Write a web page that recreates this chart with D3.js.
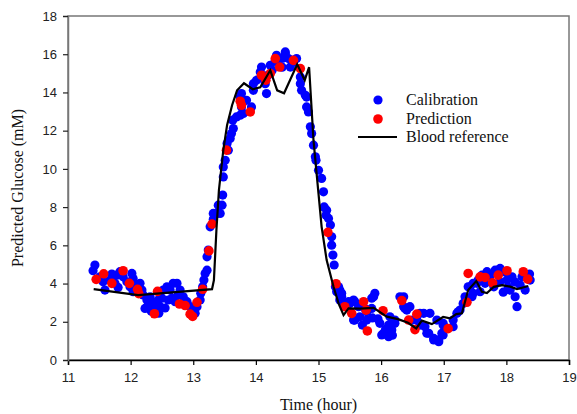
<!doctype html>
<html>
<head>
<meta charset="UTF-8">
<title>Predicted Glucose</title>
<script src="https://d3js.org/d3.v7.min.js"></script>
<style>
  body { margin: 0; background: #fff; }
  .tick text { font-family: "Liberation Sans", Arial, sans-serif; font-size: 13px; fill: #222; }
  .title { font-family: "Liberation Serif", "Times New Roman", serif; font-size: 16px; fill: #111; }
  .legend text { font-family: "Liberation Serif", "Times New Roman", serif; font-size: 16px; fill: #111; }
</style>
</head>
<body>
<div id="chart"></div>
<script>
// blood reference glucose [hour, mM]
var bloodRef = [
  [11.41,3.71],[12.12,3.40],[13.30,3.71],[13.33,4.18],[13.37,6.80],[13.41,8.89],[13.48,10.98],
  [13.54,12.28],[13.62,13.33],[13.70,14.11],[13.81,14.48],[13.95,14.17],[14.07,14.27],[14.23,15.16],
  [14.34,14.11],[14.45,13.96],[14.66,15.47],[14.78,14.64],[14.85,15.32],[14.92,11.50],[15.00,8.71],
  [15.05,6.97],[15.13,5.23],[15.24,3.83],[15.32,2.96],[15.40,2.35],[15.48,2.70],[15.66,2.69],
  [15.88,2.73],[16.09,2.27],[16.27,2.14],[16.43,1.95],[16.56,1.65],[16.65,2.06],[16.81,1.88],
  [16.99,2.25],[17.10,2.18],[17.20,2.40],[17.29,2.44],[17.39,3.66],[17.52,4.13],[17.61,3.57],
  [17.69,3.50],[17.80,3.83],[17.93,3.92],[18.06,3.84],[18.17,3.71],[18.35,3.87]
];

// calibration set predictions [hour, mM]
var calibration = [
  [11.43,4.97],[11.40,4.67],[11.51,4.35],[11.56,4.09],[11.59,3.66],[11.67,4.18],[11.75,4.01],
  [11.78,4.44],[11.83,4.62],[11.88,4.35],[11.94,4.09],[12.02,4.53],[12.04,4.27],[11.99,3.83],
  [12.10,3.92],[12.15,4.01],[12.18,3.66],[12.04,3.57],[12.20,3.40],[12.26,3.14],[12.23,2.70],
  [12.28,2.79],[12.34,3.05],[12.39,2.96],[12.42,2.61],[12.47,2.79],[12.50,3.23],[12.31,3.31],
  [12.52,3.66],[12.58,3.83],[12.63,3.66],[12.66,3.23],[12.71,3.05],[12.68,4.01],[12.74,4.01],
  [12.79,3.66],[12.84,3.31],[12.90,3.05],[12.95,2.79],[12.98,2.52],[13.03,2.44],[13.06,2.79],
  [13.11,3.14],[13.12,3.49],[13.15,3.83],[13.17,4.18],[13.19,4.53],[13.22,4.70],[13.22,5.40],
  [13.24,5.75],[11.70,4.50],[11.80,3.80],[12.44,3.14],[12.55,2.72],[12.60,3.14],[12.76,3.40],
  [12.36,2.75],[12.45,2.45],[12.33,2.55],
  [13.27,6.97],[13.32,7.67],[13.38,7.67],[13.43,7.67],[13.46,8.10],[13.47,8.63],[13.48,9.58],
  [13.48,10.10],[13.51,10.45],[13.54,11.33],[13.59,11.59],[13.61,11.85],[13.64,12.11],[13.63,12.55],
  [13.69,12.72],[13.75,12.81],[13.80,12.90],[13.77,13.24],[13.93,13.24],[13.85,13.59],[13.75,13.76],
  [13.77,13.94],[13.32,7.37],[13.40,8.10],[13.56,10.98],
  [13.96,14.46],[14.01,14.64],[14.07,15.07],[14.17,13.94],[14.15,14.46],[14.23,15.42],[14.31,15.68],
  [14.47,16.03],[14.52,15.77],[14.55,15.33],[14.65,15.77],[14.71,14.81],[14.71,14.46],[14.73,14.11],
  [14.79,13.85],[14.81,13.24],[14.84,12.98],[14.10,14.74],[14.19,14.90],[14.26,15.16],[14.35,15.58],
  [14.42,15.32],[14.59,15.58],[14.43,15.79],[13.96,14.11],[14.09,15.33],[14.33,15.94],[14.47,16.12],
  [14.81,13.76],
  [14.87,12.20],[14.89,11.85],[14.92,11.24],[14.95,10.63],[14.96,10.45],[15.00,9.93],[15.05,9.50],
  [15.08,8.80],[15.09,8.01],[15.13,7.84],[15.12,7.58],[15.16,7.41],[15.19,7.06],[15.21,6.45],
  [15.21,6.01],[15.23,5.49],[15.25,4.97],[15.27,3.83],[15.32,3.83],[15.29,3.57],[15.34,3.66],
  [15.37,3.49],[15.37,3.31],[15.34,3.14],[15.40,2.96],
  [15.48,3.05],[15.50,2.96],[15.56,3.14],[15.58,3.05],[15.56,2.09],[15.58,2.09],[15.66,2.26],
  [15.64,2.79],[15.74,2.70],[15.77,2.52],[15.77,2.09],[15.85,2.70],[15.85,3.23],[15.90,3.49],
  [15.88,3.31],[15.98,1.92],[16.04,1.40],[16.01,1.31],[16.12,1.22],[16.17,1.57],[16.12,1.83],
  [16.14,2.26],[16.22,2.09],[16.22,1.92],[16.30,3.31],[16.36,2.79],[16.38,2.70],[16.41,2.61],
  [16.46,2.79],[16.57,2.09],[16.68,2.44],[16.70,1.74],[16.73,1.40],[16.76,1.40],[16.84,1.13],
  [16.84,1.05],[16.92,0.96],[16.92,1.05],[16.97,1.40],[16.99,1.31],[16.99,1.83],[16.99,1.92],
  [16.36,3.31],[16.62,2.44],[16.78,2.44],[16.89,2.09],[17.15,1.74],[17.21,2.44],[17.26,2.61],
  [15.70,1.83],[15.86,2.20],[16.50,2.09],[16.62,1.83],[16.07,1.60],[16.18,1.30],[15.95,2.15],
  [17.15,2.09],[17.23,2.52],[17.31,2.96],[17.34,3.31],[17.37,3.23],[17.42,3.83],[17.45,3.31],
  [17.47,3.49],[17.39,3.83],[17.47,4.01],[17.53,4.01],[17.69,4.62],[17.90,4.79],[18.01,4.18],
  [18.09,4.35],[18.06,3.66],[18.14,3.31],[18.17,2.79],[18.25,4.35],[18.37,4.50],[17.90,4.09],
  [17.80,3.83],[17.66,4.01],[17.58,3.57],[17.74,4.39],[17.82,4.70],[17.98,4.60],[18.14,4.08],
  [18.22,3.92],[18.30,3.66],[18.38,4.18],[17.61,4.44],[17.55,4.18],[18.03,3.82],[17.95,3.55]
];

// prediction set [hour, mM]
var prediction = [
  [11.45,4.22],[11.57,4.51],[11.70,4.01],[11.88,4.67],[11.98,4.01],[12.11,3.70],[12.13,3.47],
  [12.43,3.59],[12.38,2.42],[12.78,2.93],[12.87,2.85],[12.95,2.40],[12.99,2.28],[13.06,3.02],
  [13.15,3.70],[13.25,5.71],[13.30,7.11],
  [13.53,10.98],[13.75,13.54],[13.77,13.33],[13.91,12.98],
  [14.09,14.90],[14.16,14.64],[14.23,14.99],[14.31,15.77],[14.38,15.33],[14.60,15.68],[14.71,15.25],
  [15.15,6.68],[15.28,3.99],
  [15.42,2.79],[15.53,2.44],[15.72,3.05],[15.76,2.61],[15.78,1.52],[16.03,2.58],[16.33,3.11],
  [16.44,2.09],[16.57,2.40],[16.54,1.59],[17.07,1.64],
  [17.37,3.02],[17.39,4.53],[17.58,4.35],[17.66,4.32],[17.78,4.04],[17.87,4.44],[18.01,4.67],
  [18.27,4.62],[18.34,4.23]
];

var xTicks = [11, 12, 13, 14, 15, 16, 17, 18, 19];
var yTicks = [0, 2, 4, 6, 8, 10, 12, 14, 16, 18];

var width = 577, height = 414;
var margin = {left: 68, right: 8, top: 16, bottom: 54};

var svg = d3.select("#chart").append("svg")
    .attr("width", width)
    .attr("height", height);

var x = d3.scaleLinear().domain([11, 19]).range([margin.left, width - margin.right]);
var y = d3.scaleLinear().domain([0, 18]).range([height - margin.bottom, margin.top]);

// frame
svg.append("rect")
    .attr("x", x(11)).attr("y", y(18))
    .attr("width", x(19) - x(11)).attr("height", y(0) - y(18))
    .attr("fill", "none").attr("stroke", "#777").attr("stroke-width", 1.5);

var xAxis = svg.append("g")
    .attr("transform", "translate(0," + y(0) + ")")
    .call(d3.axisBottom(x).tickValues(xTicks).tickSize(5).tickPadding(8).tickFormat(d3.format("d")));
xAxis.select(".domain").attr("stroke", "#000").attr("stroke-width", 1.5);
xAxis.selectAll(".tick line").attr("stroke", "#000").attr("stroke-width", 1.2);

var yAxis = svg.append("g")
    .attr("transform", "translate(" + x(11) + ",0)")
    .call(d3.axisLeft(y).tickValues(yTicks).tickSize(5).tickPadding(6).tickFormat(d3.format("d")));
yAxis.select(".domain").attr("stroke", "#777").attr("stroke-width", 1.5);
yAxis.selectAll(".tick line").attr("stroke", "#222").attr("stroke-width", 1.2);

// points
svg.append("g").selectAll("circle")
    .data(calibration)
    .enter().append("circle")
    .attr("cx", function(d) { return x(d[0]); })
    .attr("cy", function(d) { return y(d[1]); })
    .attr("r", 4.6)
    .attr("fill", "#0000ff");

svg.append("g").selectAll("circle")
    .data(prediction)
    .enter().append("circle")
    .attr("cx", function(d) { return x(d[0]); })
    .attr("cy", function(d) { return y(d[1]); })
    .attr("r", 4.8)
    .attr("fill", "#ff0000");

var line = d3.line()
    .x(function(d) { return x(d[0]); })
    .y(function(d) { return y(d[1]); });

svg.append("path")
    .datum(bloodRef)
    .attr("d", line)
    .attr("fill", "none")
    .attr("stroke", "#000")
    .attr("stroke-width", 2.2)
    .attr("stroke-linejoin", "miter");

// titles
svg.append("text")
    .attr("class", "title")
    .attr("x", (x(11) + x(19)) / 2)
    .attr("y", 410)
    .attr("text-anchor", "middle")
    .text("Time (hour)");

svg.append("text")
    .attr("class", "title")
    .attr("transform", "translate(23," + (y(0) + y(18)) / 2 + ") rotate(-90)")
    .attr("text-anchor", "middle")
    .text("Predicted Glucose (mM)");

// legend
var legend = svg.append("g").attr("class", "legend");
legend.append("circle").attr("cx", 378).attr("cy", 100).attr("r", 4.6).attr("fill", "#0000ff");
legend.append("text").attr("x", 406).attr("y", 105).text("Calibration");
legend.append("circle").attr("cx", 378).attr("cy", 119).attr("r", 4.8).attr("fill", "#ff0000");
legend.append("text").attr("x", 406).attr("y", 124).text("Prediction");
legend.append("line").attr("x1", 358).attr("x2", 397).attr("y1", 137).attr("y2", 137)
    .attr("stroke", "#000").attr("stroke-width", 2.2);
legend.append("text").attr("x", 406).attr("y", 142).text("Blood reference");
</script>
</body>
</html>
